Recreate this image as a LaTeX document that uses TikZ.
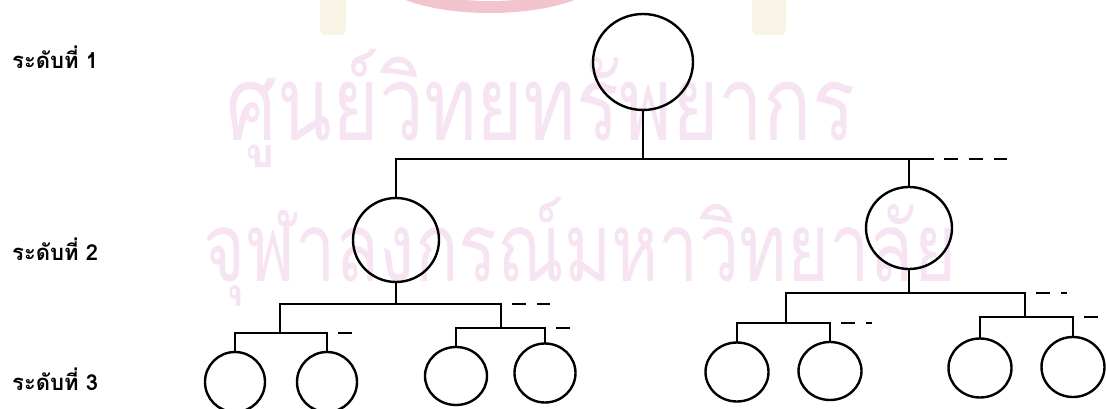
\documentclass[tikz,border=0pt]{standalone}
\usepackage{fontspec}
\newfontfamily\thaifont[Script=Thai]{Loma}
\usetikzlibrary{calc,shapes.geometric}
\definecolor{wm}{RGB}{246,228,242}
\definecolor{logored}{RGB}{242,196,206}
\definecolor{logobeige}{RGB}{249,243,230}
\tikzset{
  conn/.style={line width=2.4pt, line cap=rect},
  ext/.style={line width=2.4pt, dash pattern=on 14pt off 11pt, dash phase=14pt},
  bignode/.style={draw, line width=2.4pt, ellipse, inner sep=0pt},
  lvl/.style={anchor=base west, inner sep=0pt, font=\thaifont\bfseries\fontsize{22}{26}\selectfont},
  wmark/.style={inner sep=0pt, text=wm, font=\thaifont\fontsize{80}{90}\selectfont}
}
\begin{document}
\begin{tikzpicture}[x=1pt,y=-1pt]
\useasboundingbox (0,0) rectangle (1106,409);
\clip (0,0) rectangle (1106,409);
% watermark
\fill[logored] (490,-25) ellipse [x radius=112, y radius=38];
\fill[white] (490,-30) ellipse [x radius=95, y radius=31];
\fill[logobeige, rounded corners=6pt] (320,-5) rectangle (346,35);
\fill[logobeige, rounded corners=6pt] (752,-5) rectangle (786,35);
\node[wmark, anchor=center, yscale=1.3] (w1) at (541,108) {ศูนย์วิทยทรัพยากร};
\node[wmark, anchor=center, xscale=0.9, yscale=1.2] (w2) at (580,252) {จุฬาลงกรณ์มหาวิทยาลัย};
% labels
\node[lvl] (l1) at (12,69) {ระดับที่ 1};
\node[lvl] (l2) at (12,260) {ระดับที่ 2};
\node[lvl] (l3) at (12,390) {ระดับที่ 3};
% level 1
\node[bignode, minimum width=100pt, minimum height=96pt] (r) at (643,62) {};
% level 2
\node[bignode, minimum width=86pt, minimum height=84pt] (a) at (396,240) {};
\node[bignode, minimum width=86pt, minimum height=82pt] (b) at (909,228) {};
% level 3
\node[bignode, minimum width=60pt, minimum height=60pt] (c1) at (235,382) {};
\node[bignode, minimum width=60pt, minimum height=60pt] (c2) at (327,382) {};
\node[bignode, minimum width=62pt, minimum height=58pt] (c3) at (456,376) {};
\node[bignode, minimum width=61pt, minimum height=59pt] (c4) at (545,373) {};
\node[bignode, minimum width=63pt, minimum height=59pt] (c5) at (737,372) {};
\node[bignode, minimum width=63pt, minimum height=58pt] (c6) at (830,371) {};
\node[bignode, minimum width=63pt, minimum height=59pt] (c7) at (980,368) {};
\node[bignode, minimum width=63pt, minimum height=60pt] (c8) at (1073,367) {};
% junction coordinates
\coordinate (h1L) at (396,159);
\coordinate (h1R) at (909,159);
\coordinate (h1E) at (933,159);
\coordinate (h1D) at (1007,159);
\coordinate (h2aL) at (280,304);
\coordinate (h2aR) at (501,304);
\coordinate (h2aD) at (550,304);
\coordinate (h3aL) at (235,333);
\coordinate (h3aR) at (327,333);
\coordinate (h3aD) at (362,333);
\coordinate (h3bL) at (456,328);
\coordinate (h3bR) at (545,328);
\coordinate (h3bD) at (580,328);
\coordinate (h2bL) at (786,293);
\coordinate (h2bR) at (1025,293);
\coordinate (h2bD) at (1067,293);
\coordinate (h3cL) at (737,323);
\coordinate (h3cR) at (830,323);
\coordinate (h3cD) at (872,323);
\coordinate (h3dL) at (980,317);
\coordinate (h3dR) at (1073,317);
\coordinate (h3dD) at (1106,317);
% level 1 -> 2
\draw[conn] (r.south) -- (r.south |- h1L);
\draw[conn] (h1L) -- (h1E);
\draw[ext] (h1E) -- (h1D);
\draw[conn] (h1L) -- (a.north);
\draw[conn] (h1R) -- (b.north);
% left subtree
\draw[conn] (a.south) -- (a.south |- h2aL);
\draw[conn] (h2aL) -- (h2aR);
\draw[ext] (h2aR) -- (h2aD);
\draw[conn] (h2aL) -- (h2aL |- h3aL);
\draw[conn] (h3aL) -- (h3aR);
\draw[ext] (h3aR) -- (h3aD);
\draw[conn] (h3aL) -- (c1.north);
\draw[conn] (h3aR) -- (c2.north);
\draw[conn] (h2aR) -- (h2aR |- h3bL);
\draw[conn] (h3bL) -- (h3bR);
\draw[ext] (h3bR) -- (h3bD);
\draw[conn] (h3bL) -- (c3.north);
\draw[conn] (h3bR) -- (c4.north);
% right subtree
\draw[conn] (b.south) -- (b.south |- h2bL);
\draw[conn] (h2bL) -- (h2bR);
\draw[ext] (h2bR) -- (h2bD);
\draw[conn] (h2bL) -- (h2bL |- h3cL);
\draw[conn] (h3cL) -- (h3cR);
\draw[ext] (h3cR) -- (h3cD);
\draw[conn] (h3cL) -- (c5.north);
\draw[conn] (h3cR) -- (c6.north);
\draw[conn] (h2bR) -- (h2bR |- h3dL);
\draw[conn] (h3dL) -- (h3dR);
\draw[ext] (h3dR) -- (h3dD);
\draw[conn] (h3dL) -- (c7.north);
\draw[conn] (h3dR) -- (c8.north);
\end{tikzpicture}
\end{document}
